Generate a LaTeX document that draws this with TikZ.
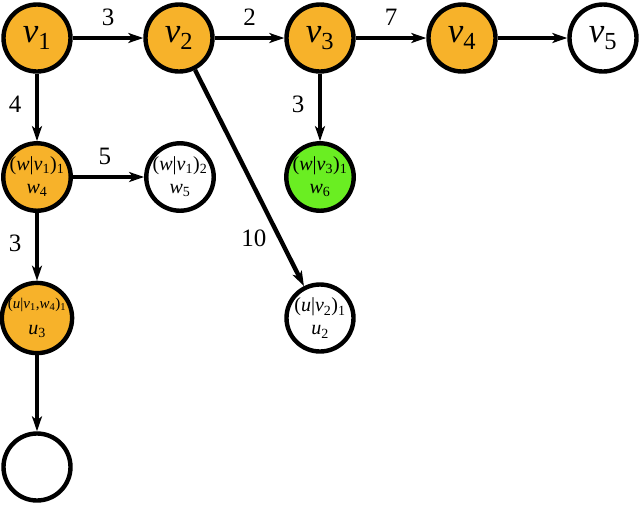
\documentclass[tikz,border=0pt]{standalone}
\usepackage{fontspec}
\setmainfont{Liberation Serif}
\usetikzlibrary{arrows.meta}
\definecolor{orng}{RGB}{247,178,42}
\definecolor{grn}{RGB}{106,238,34}
\newcommand\iv[2]{\textit{#1}\textsubscript{#2}}
\begin{document}
\begin{tikzpicture}[x=1pt,y=-1pt,
  vtx/.style={circle,draw=black,line width=4.4pt,minimum size=67pt,inner sep=0pt,align=center},
  big/.style={font=\fontsize{35}{36}\selectfont},
  mid/.style={font=\fontsize{20}{23}\selectfont},
  sml/.style={font=\fontsize{15}{23}\selectfont},
  edge/.style={line width=4.4pt,-{Stealth[length=15pt,width=10pt,inset=4pt]}},
  elab/.style={font=\fontsize{25}{25}\selectfont}]
\useasboundingbox (0,0) rectangle (640,504);
\node[vtx,fill=orng,big] (v1) at (37,38) {\iv{v}{1}};
\node[vtx,fill=orng,big] (v2) at (179,38) {\iv{v}{2}};
\node[vtx,fill=orng,big] (v3) at (320,38) {\iv{v}{3}};
\node[vtx,fill=orng,big] (v4) at (462,38) {\iv{v}{4}};
\node[vtx,fill=white,big] (v5) at (603,38) {\iv{v}{5}};
\node[vtx,fill=orng,mid] (w4) at (37,177) {(\textit{w}|\iv{v}{1})\textsubscript{1}\\\iv{w}{4}};
\node[vtx,fill=white,mid] (w5) at (180,177) {(\textit{w}|\iv{v}{1})\textsubscript{2}\\\iv{w}{5}};
\node[vtx,fill=grn,mid] (w6) at (320,177) {(\textit{w}|\iv{v}{3})\textsubscript{1}\\\iv{w}{6}};
\node[vtx,fill=orng,sml] (u3) at (37,318) {(\textit{u}|\iv{v}{1},\iv{w}{4})\textsubscript{1}\\[3pt]{\fontsize{20}{22}\selectfont\iv{u}{3}}};
\node[vtx,fill=white,mid] (u2) at (320,318) {(\textit{u}|\iv{v}{2})\textsubscript{1}\\\iv{u}{2}};
\node[vtx,fill=white] (b) at (37,467) {};
\draw[edge] (v1) -- node[elab,above=7pt]{3} (v2);
\draw[edge] (v2) -- node[elab,above=7pt]{2} (v3);
\draw[edge] (v3) -- node[elab,above=7pt]{7} (v4);
\draw[edge] (v4) -- (v5);
\draw[edge] (v1) -- node[elab,left=10pt,pos=0.45]{4} (w4);
\draw[edge] (w4) -- node[elab,above=7pt,pos=0.45]{5} (w5);
\draw[edge] (v3) -- node[elab,left=10pt,pos=0.45]{3} (w6);
\draw[edge] (w4) -- node[elab,left=10pt,pos=0.45]{3} (u3);
\draw[edge] (u3) -- (b);
\draw[edge] (v2) -- node[elab,left=8pt,pos=0.78]{10} (u2);
\end{tikzpicture}
\end{document}
